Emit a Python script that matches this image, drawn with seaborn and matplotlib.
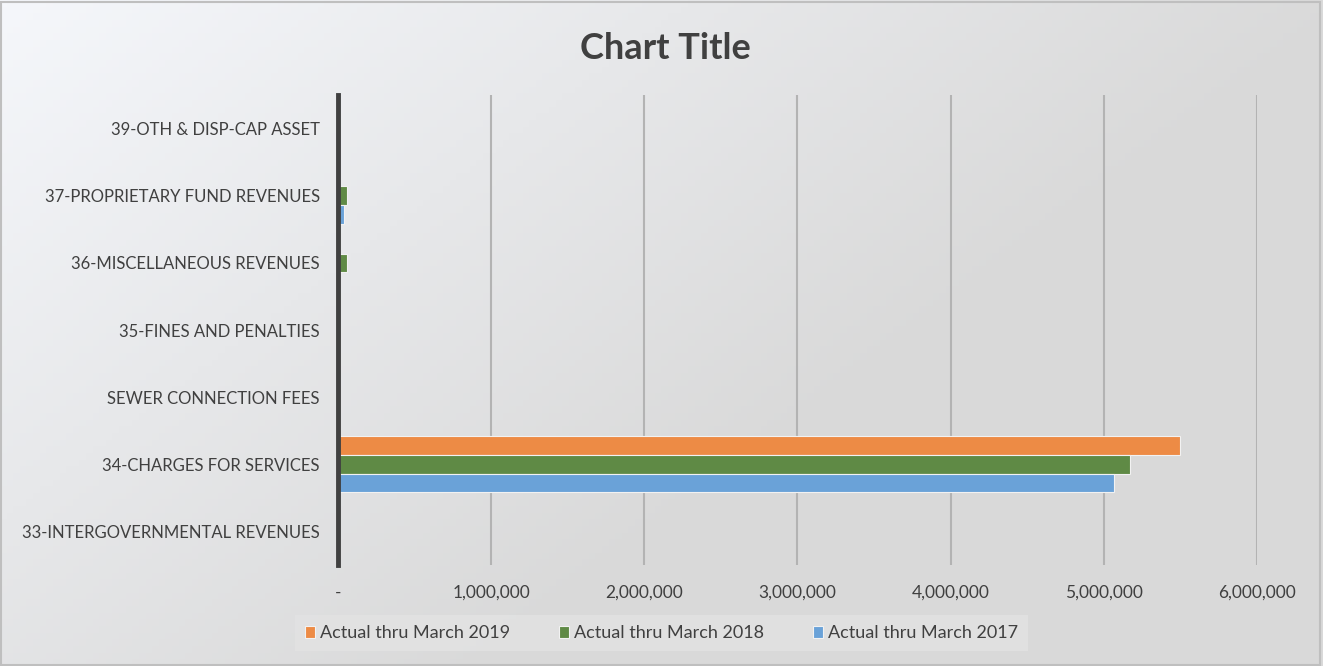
import matplotlib
matplotlib.use("Agg")
import matplotlib.pyplot as plt
import matplotlib.ticker as mticker
import seaborn as sns
import numpy as np
import pandas as pd

# categories top to bottom, as shown
categories = ["39-OTH & DISP-CAP ASSET", "37-PROPRIETARY FUND REVENUES",
              "36-MISCELLANEOUS REVENUES", "35-FINES AND PENALTIES",
              "SEWER CONNECTION FEES", "34-CHARGES FOR SERVICES",
              "33-INTERGOVERNMENTAL REVENUES"]
series = ["Actual thru March 2019", "Actual thru March 2018", "Actual thru March 2017"]
v2019 = [0, 5000, 0, 0, 0, 5500000, 0]
v2018 = [0, 58000, 58000, 0, 0, 5170000, 0]
v2017 = [0, 40000, 0, 0, 0, 5070000, 0]
colors = ["#ed8b45", "#5f8a45", "#6aa2d8"]

df = pd.DataFrame({
    "category": categories * 3,
    "series": [series[0]] * 7 + [series[1]] * 7 + [series[2]] * 7,
    "value": v2019 + v2018 + v2017,
})

sns.set_theme(style="white")
plt.rcParams["font.family"] = ["Lato", "DejaVu Sans"]

fig = plt.figure(figsize=(13.23, 6.66), dpi=100)
fig.patch.set_facecolor("#d9d9d9")

# gradient background, light in the top-left corner
bg = fig.add_axes([0, 0, 1, 1], zorder=-10)
xx, yy = np.meshgrid(np.linspace(0, 1, 200), np.linspace(0, 1, 100))
t = np.clip((xx * 0.6 + yy * 0.4) * 1.6, 0, 1)
top = np.array([245, 247, 251]) / 255
bot = np.array([217, 217, 217]) / 255
img = top[None, None, :] * (1 - t[..., None]) + bot[None, None, :] * t[..., None]
bg.imshow(img, aspect="auto", extent=[0, 1, 0, 1], origin="upper")
bg.add_patch(plt.Rectangle((0.001, 0.002), 0.997, 0.995, fill=False,
                           edgecolor="#bfbfbf", linewidth=1.5, transform=bg.transAxes))
bg.set_axis_off()

ax = fig.add_axes([0.2555, 0.1517, 0.6945, 0.7053])
ax.set_facecolor("none")
sns.barplot(data=df, y="category", x="value", hue="series", order=categories,
            hue_order=series, palette=colors, saturation=1, orient="h", width=0.84,
            edgecolor="#f2f2f2", linewidth=0.8, ax=ax, zorder=3)

ax.set_xlim(0, 6000000)
ax.set_ylim(6.5, -0.5)
ax.xaxis.set_major_locator(mticker.MultipleLocator(1000000))
ax.xaxis.set_major_formatter(mticker.FuncFormatter(
    lambda v, p: "-" if v == 0 else f"{int(v):,}"))
ax.grid(axis="x", color="#b3b3b3", linewidth=1.5, zorder=0)
ax.set_axisbelow(True)
for s in ["top", "right", "bottom"]:
    ax.spines[s].set_visible(False)
ax.spines["left"].set_color("#404040")
ax.spines["left"].set_linewidth(3.5)
ax.spines["left"].set_zorder(5)
ax.tick_params(axis="both", length=0, labelcolor="#404040")
ax.tick_params(axis="x", pad=14, labelsize=12.5)
ax.tick_params(axis="y", pad=13, labelsize=12)
ax.set_xlabel("")
ax.set_ylabel("")

fig.text(0.503, 0.927, "Chart Title", ha="center", va="center",
         fontsize=26, fontweight="bold", color="#404040")

handles, labels = ax.get_legend_handles_labels()
ax.legend_.remove()
leg = fig.legend(handles, labels, loc="center", bbox_to_anchor=(0.5, 0.0495),
                 ncol=3, frameon=True, fontsize=13, handlelength=0.55,
                 handleheight=0.65, handletextpad=0.3, columnspacing=2.7,
                 borderpad=0.55, borderaxespad=0, fancybox=False)
leg.get_frame().set_facecolor("#e3e3e3")
leg.get_frame().set_edgecolor("none")
for txt in leg.get_texts():
    txt.set_color("#404040")

fig.savefig("out.png", dpi=100, facecolor=fig.get_facecolor())
